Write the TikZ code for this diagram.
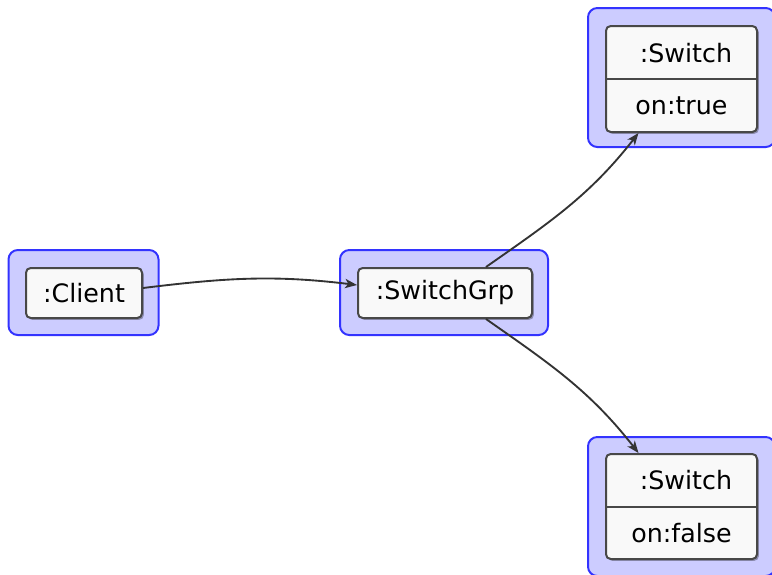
\documentclass[tikz,border=0pt]{standalone}
\usepackage{fontspec}
\setmainfont{DejaVu Sans}
\usetikzlibrary{arrows.meta,calc,shadows}
\definecolor{grpfill}{HTML}{CCCCFF}
\definecolor{grpline}{HTML}{3333FF}
\definecolor{objfill}{HTML}{F9F9F9}
\definecolor{objline}{HTML}{484848}
\definecolor{linkline}{HTML}{333333}
\begin{document}
\begin{tikzpicture}[x=0.75pt,y=-0.75pt,
  group/.style={draw=grpline, fill=grpfill, line width=1.5pt, rounded corners=7pt,
    inner sep=0pt, minimum height=63.75pt},
  obj/.style={draw=objline, fill=objfill, line width=1.5pt, rounded corners=3.5pt,
    inner sep=0pt, minimum height=37.5pt,
    drop shadow={shadow xshift=1.4pt, shadow yshift=-1.4pt, fill=black, opacity=0.3},
    font=\fontsize{19}{23}\selectfont},
  lbl/.style={inner sep=0pt, font=\fontsize{19}{23}\selectfont},
  link/.style={draw=linkline, line width=1.4pt, -{Stealth[length=9pt,width=7pt,inset=2.5pt]}}]
\useasboundingbox (0,0) rectangle (772,575);
\clip (0,0) rectangle (772,575);

% group frames
\node[group, minimum width=112.5pt] (clientGrp) at (83.5,292.5) {};
\node[group, minimum width=156pt] (swGrp) at (444,292.5) {};
\node[group, minimum width=140.25pt, minimum height=104.25pt] (onGrp) at (681.5,77.5) {};
\node[group, minimum width=140.25pt, minimum height=104.25pt] (offGrp) at (681.5,506.5) {};

% objects
\node[obj, minimum width=87pt] (client) at (84,293) {:Client};
\node[obj, minimum width=130.5pt] (grp) at (445,293) {:SwitchGrp};
\node[obj, minimum width=113.25pt, minimum height=79.5pt] (sw1) at (681.5,79) {};
\node[obj, minimum width=113.25pt, minimum height=78.75pt] (sw2) at (681.5,506.5) {};
\draw[draw=objline, line width=1.5pt] (sw1.west) -- (sw1.east);
\draw[draw=objline, line width=1.5pt] (sw2.west) -- (sw2.east);
\node[lbl] (sw1name) at (686,53) {:Switch};
\node[lbl] (sw1attr) at (681.5,106) {on:true};
\node[lbl] (sw2name) at (686,480.5) {:Switch};
\node[lbl] (sw2attr) at (681.5,533) {on:false};

% connectors
\coordinate (c1) at ($(client.east)+(0,-5)$);
\coordinate (g1) at ($(grp.west)+(0,-8)$);
\coordinate (gtop) at ($(grp.north)+(41,0)$);
\coordinate (gbot) at ($(grp.south)+(41,0)$);
\coordinate (s1) at ($(sw1.south)+(-43,0)$);
\coordinate (s2) at ($(sw2.north)+(-43,0)$);
\draw[link] (c1) to[out=7, in=173] (g1);
\draw[link] (gtop) to[out=35, in=-128] (s1);
\draw[link] (gbot) to[out=-35, in=128] (s2);
\end{tikzpicture}
\end{document}
